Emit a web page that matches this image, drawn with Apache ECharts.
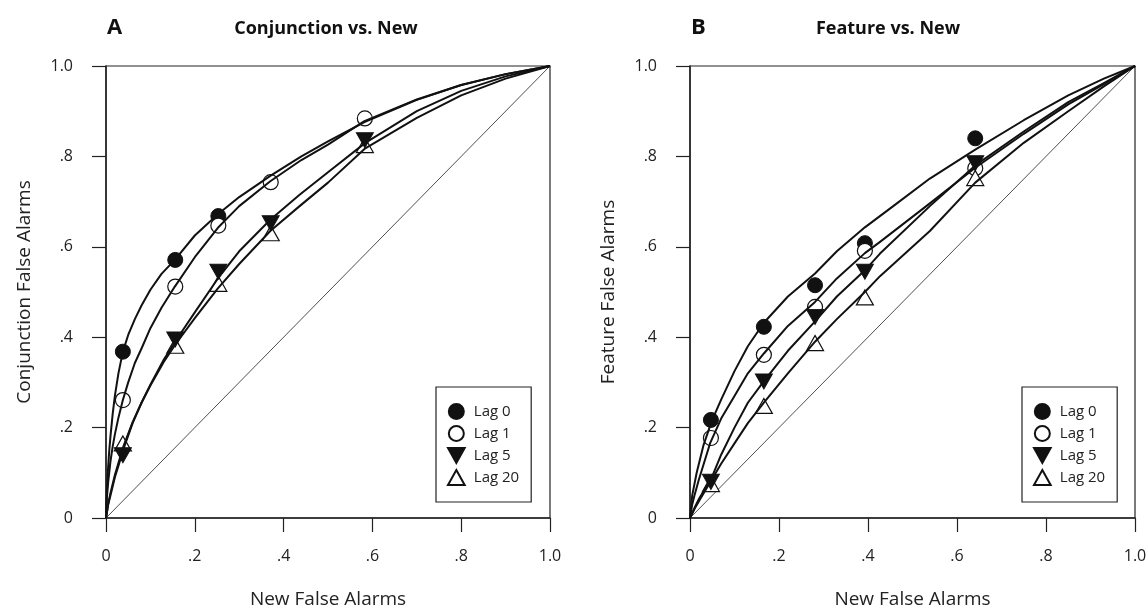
<!DOCTYPE html>
<html>
<head>
<meta charset="utf-8">
<script src="https://cdn.jsdelivr.net/npm/echarts@6/dist/echarts.min.js"></script>
<style>
html,body{margin:0;padding:0;background:#fff;}
#chart{width:1148px;height:612px;}
</style>
</head>
<body>
<div id="chart"></div>
<script>
// ---------- DATA ----------
const lagNames = ['Lag 0', 'Lag 1', 'Lag 5', 'Lag 20'];
const axisTicks = [0, 0.2, 0.4, 0.6, 0.8, 1.0];
const tickLabels = ['0', '.2', '.4', '.6', '.8', '1.0'];

// Panel A: Conjunction vs. New
const newFA_A = [0.038, 0.156, 0.253, 0.371, 0.583];
const conjLag0 = [0.368, 0.571, 0.668, null, null];
const conjLag1 = [0.261, 0.512, 0.647, 0.743, 0.884];
const conjLag5 = [0.139, 0.395, 0.545, 0.652, 0.836];
const conjLag20 = [0.165, 0.381, 0.518, 0.630, 0.825];

// Panel B: Feature vs. New
const newFA_B = [0.047, 0.166, 0.281, 0.393, 0.641];
const featLag0 = [0.217, 0.423, 0.515, 0.608, 0.840];
const featLag1 = [0.177, 0.361, 0.467, 0.591, 0.774];
const featLag5 = [0.080, 0.302, 0.445, 0.545, 0.785];
const featLag20 = [0.075, 0.248, 0.387, 0.488, 0.752];

// Fitted ROC curves
const curveA0 = [[0,0],[0.002,0.06],[0.004,0.1],[0.007,0.145],[0.01,0.18],[0.015,0.23],[0.02,0.27],[0.028,0.32],[0.038,0.368],[0.05,0.405],[0.065,0.44],[0.08,0.47],[0.1,0.505],[0.125,0.54],[0.155,0.571],[0.2,0.625],[0.252,0.672],[0.3,0.71],[0.37,0.757],[0.44,0.8],[0.5,0.833],[0.582,0.876],[0.7,0.925],[0.8,0.958],[0.9,0.982],[1,1]];
const curveA1 = [[0,0],[0.002,0.045],[0.005,0.08],[0.01,0.125],[0.015,0.158],[0.02,0.185],[0.028,0.222],[0.038,0.261],[0.05,0.3],[0.065,0.343],[0.08,0.375],[0.1,0.42],[0.125,0.465],[0.155,0.512],[0.2,0.577],[0.252,0.642],[0.3,0.69],[0.37,0.745],[0.44,0.792],[0.5,0.826],[0.582,0.878],[0.7,0.926],[0.8,0.958],[0.9,0.982],[1,1]];
const curveA5 = [[0,0],[0.005,0.03],[0.01,0.05],[0.02,0.09],[0.03,0.122],[0.039,0.152],[0.06,0.21],[0.08,0.255],[0.1,0.295],[0.13,0.35],[0.157,0.392],[0.2,0.455],[0.252,0.53],[0.3,0.59],[0.37,0.66],[0.436,0.715],[0.5,0.765],[0.584,0.83],[0.7,0.9],[0.8,0.945],[0.9,0.977],[1,1]];
const curveA20 = [[0,0],[0.005,0.032],[0.01,0.055],[0.02,0.095],[0.03,0.128],[0.039,0.158],[0.06,0.212],[0.08,0.255],[0.1,0.293],[0.13,0.345],[0.157,0.385],[0.2,0.442],[0.252,0.508],[0.3,0.562],[0.37,0.635],[0.436,0.69],[0.5,0.742],[0.584,0.818],[0.7,0.885],[0.8,0.935],[0.9,0.972],[1,1]];

const curveB0 = [[0,0],[0.005,0.05],[0.015,0.1],[0.03,0.16],[0.049,0.215],[0.07,0.262],[0.1,0.325],[0.13,0.38],[0.166,0.432],[0.22,0.49],[0.281,0.541],[0.33,0.59],[0.393,0.643],[0.45,0.685],[0.539,0.751],[0.641,0.815],[0.75,0.88],[0.85,0.935],[0.93,0.972],[1,1]];
const curveB1 = [[0,0],[0.005,0.03],[0.01,0.05],[0.02,0.085],[0.045,0.165],[0.07,0.22],[0.1,0.27],[0.13,0.32],[0.166,0.364],[0.22,0.425],[0.281,0.478],[0.33,0.53],[0.393,0.586],[0.427,0.611],[0.539,0.696],[0.641,0.775],[0.75,0.85],[0.85,0.915],[0.93,0.96],[1,1]];
const curveB5 = [[0,0],[0.01,0.022],[0.02,0.042],[0.049,0.09],[0.07,0.14],[0.1,0.2],[0.13,0.255],[0.166,0.303],[0.22,0.37],[0.281,0.435],[0.33,0.49],[0.393,0.548],[0.427,0.585],[0.539,0.69],[0.641,0.78],[0.75,0.855],[0.85,0.92],[0.93,0.962],[1,1]];
const curveB20 = [[0,0],[0.01,0.02],[0.02,0.037],[0.049,0.085],[0.07,0.12],[0.1,0.165],[0.13,0.21],[0.166,0.255],[0.22,0.32],[0.281,0.39],[0.33,0.44],[0.393,0.5],[0.427,0.535],[0.539,0.635],[0.641,0.742],[0.75,0.83],[0.85,0.9],[0.93,0.955],[1,1]];

const chanceLine = [[0,0],[1,1]];

// ---------- BUILD ----------
const FONT = '"Open Sans", "Noto Sans", sans-serif';
const downTri = 'path://M0,0 L20,0 L10,18 Z';
const upTri = 'path://M10,0 L20,18 L0,18 Z';

const markerStyles = {
  'Lag 0': {symbol: 'circle', symbolSize: 15, itemStyle: {color: '#111', borderColor: '#111', borderWidth: 1, opacity: 1}},
  'Lag 1': {symbol: 'circle', symbolSize: 15, itemStyle: {color: '#fff', borderColor: '#111', borderWidth: 1.2, opacity: 1}},
  'Lag 5': {symbol: downTri, symbolSize: [17, 15], itemStyle: {color: '#111', borderColor: '#111', borderWidth: 1, opacity: 1}},
  'Lag 20': {symbol: upTri, symbolSize: [17, 15], itemStyle: {color: '#fff', borderColor: '#111', borderWidth: 1.2, opacity: 1}}
};

function pts(xs, ys) {
  const out = [];
  xs.forEach((x, i) => { if (ys[i] != null) out.push([x, ys[i]]); });
  return out;
}

function scatter(name, idx, data) {
  const m = markerStyles[name];
  return {
    name: name, type: 'scatter', xAxisIndex: idx, yAxisIndex: idx,
    data: data, z: 3, silent: true,
    symbol: m.symbol, symbolSize: m.symbolSize,
    itemStyle: Object.assign({}, m.itemStyle)
  };
}

function curve(id, idx, data) {
  return {
    name: id, type: 'line', xAxisIndex: idx, yAxisIndex: idx, data: data,
    showSymbol: false, smooth: false, z: 4, silent: true,
    lineStyle: {color: '#111', width: 2, join: 'round'}
  };
}

function chance(idx) {
  return {
    name: 'chance' + idx, type: 'line', xAxisIndex: idx, yAxisIndex: idx,
    data: chanceLine, showSymbol: false, z: 1, silent: true,
    lineStyle: {color: '#222', width: 0.8}
  };
}

const grids = [
  {left: 106, top: 66, width: 444, height: 452},
  {left: 690, top: 66, width: 445, height: 452}
];
grids.forEach(g => {
  g.show = true; g.borderColor = '#222'; g.borderWidth = 1.2; g.backgroundColor = 'transparent';
  g.containLabel = false; g.outerBoundsMode = 'none';
});

function fmt(v) {
  const i = axisTicks.findIndex(t => Math.abs(t - v) < 1e-6);
  return i >= 0 ? tickLabels[i] : '';
}

function xAxis(idx) {
  return {
    gridIndex: idx, type: 'value', min: 0, max: 1, interval: 0.2,
    name: 'New False Alarms', nameLocation: 'middle', nameGap: 72,
    nameTextStyle: {fontFamily: FONT, fontSize: 19, color: '#222'},
    axisLine: {show: true, lineStyle: {color: '#222', width: 1.5}},
    axisTick: {show: true, inside: false, length: 14, lineStyle: {color: '#222', width: 1.2}},
    axisLabel: {margin: 30, fontFamily: FONT, fontSize: 16, color: '#222', formatter: fmt},
    splitLine: {show: false}
  };
}
function yAxis(idx, name) {
  return {
    gridIndex: idx, type: 'value', min: 0, max: 1, interval: 0.2,
    name: name, nameLocation: 'middle', nameGap: 72, nameRotate: 90,
    nameTextStyle: {fontFamily: FONT, fontSize: 19, color: '#222'},
    axisLine: {show: true, lineStyle: {color: '#222', width: 1.5}},
    axisTick: {show: true, inside: false, length: 14, lineStyle: {color: '#222', width: 1.2}},
    axisLabel: {margin: 33, fontFamily: FONT, fontSize: 16, color: '#222', formatter: fmt},
    splitLine: {show: false}
  };
}

function legend(left, top) {
  return {
    data: lagNames, orient: 'vertical', left: left, top: top,
    backgroundColor: '#fff', borderColor: '#222', borderWidth: 1.2,
    padding: [16, 12, 16, 11], itemGap: 5, itemWidth: 17, itemHeight: 15,
    selectedMode: false,
    textStyle: {fontFamily: FONT, fontSize: 15, color: '#222', padding: [0, 0, 0, 4]}
  };
}

const series = [
  chance(0), chance(1),
  scatter('Lag 0', 0, pts(newFA_A, conjLag0)),
  scatter('Lag 1', 0, pts(newFA_A, conjLag1)),
  scatter('Lag 20', 0, pts(newFA_A, conjLag20)),
  scatter('Lag 5', 0, pts(newFA_A, conjLag5)),
  scatter('Lag 0', 1, pts(newFA_B, featLag0)),
  scatter('Lag 1', 1, pts(newFA_B, featLag1)),
  scatter('Lag 20', 1, pts(newFA_B, featLag20)),
  scatter('Lag 5', 1, pts(newFA_B, featLag5)),
  curve('fitA0', 0, curveA0), curve('fitA1', 0, curveA1), curve('fitA5', 0, curveA5), curve('fitA20', 0, curveA20),
  curve('fitB0', 1, curveB0), curve('fitB1', 1, curveB1), curve('fitB5', 1, curveB5), curve('fitB20', 1, curveB20)
];

const option = {
  animation: false,
  backgroundColor: '#fff',
  grid: grids,
  xAxis: [xAxis(0), xAxis(1)],
  yAxis: [yAxis(0, 'Conjunction False Alarms'), yAxis(1, 'Feature False Alarms')],
  legend: [legend(436, 387), legend(1022, 387)],
  graphic: [
    {type: 'text', x: 107, y: 28, style: {text: 'A', font: 'bold 22px ' + FONT, fill: '#111', textVerticalAlign: 'middle'}},
    {type: 'text', x: 326, y: 29, style: {text: 'Conjunction vs. New', font: 'bold 18px ' + FONT, fill: '#111', textAlign: 'center', textVerticalAlign: 'middle'}},
    {type: 'text', x: 691, y: 28, style: {text: 'B', font: 'bold 22px ' + FONT, fill: '#111', textVerticalAlign: 'middle'}},
    {type: 'text', x: 888, y: 29, style: {text: 'Feature vs. New', font: 'bold 18px ' + FONT, fill: '#111', textAlign: 'center', textVerticalAlign: 'middle'}}
  ],
  series: series
};

const chart = echarts.init(document.getElementById('chart'), null, {renderer: 'canvas'});
chart.setOption(option);
</script>
</body>
</html>
